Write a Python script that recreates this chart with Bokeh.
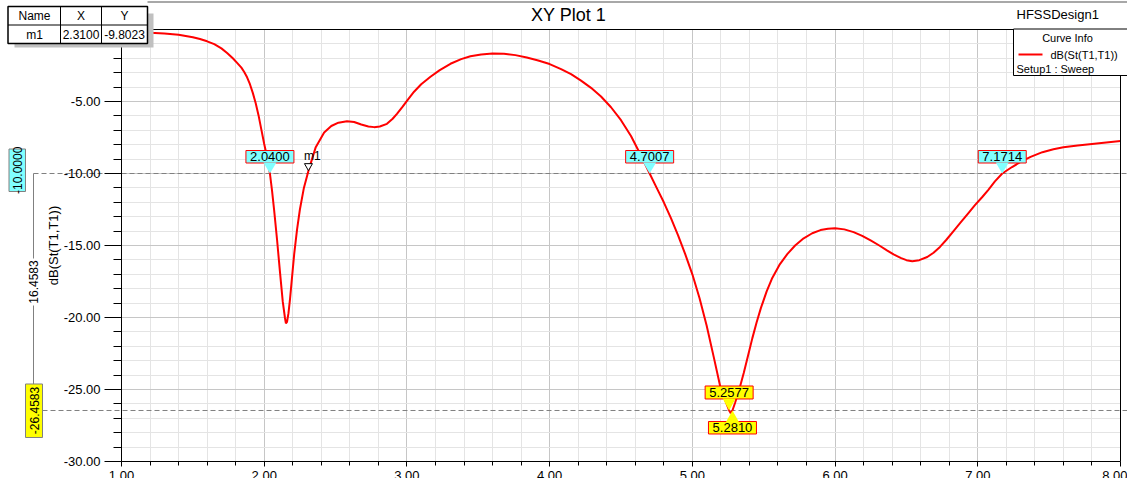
import math
from bokeh.plotting import figure
from bokeh.models import LinearAxis, FixedTicker, PrintfTickFormatter, Range1d, Grid
from bokeh.core.properties import value
from bokeh.embed import file_html
from bokeh.resources import INLINE

FONT = "Liberation Sans"

# ---------------- data ----------------
freq = [1.00, 1.10, 1.20, 1.30, 1.40, 1.50, 1.55, 1.60, 1.65, 1.70, 1.74, 1.78, 1.81, 1.84,
        1.86, 1.88, 1.90, 1.92, 1.94, 1.96, 1.98, 2.00, 2.02, 2.04, 2.055, 2.07, 2.09, 2.11,
        2.13, 2.145, 2.152, 2.16, 2.17, 2.18, 2.195, 2.21, 2.23, 2.25, 2.278, 2.31, 2.36,
        2.42, 2.47, 2.52, 2.58, 2.63, 2.68, 2.73, 2.77, 2.81, 2.86, 2.90, 2.93, 2.97, 3.00,
        3.05, 3.10, 3.165, 3.23, 3.305, 3.38, 3.445, 3.52, 3.60, 3.68, 3.76, 3.84, 3.92,
        4.00, 4.08, 4.15, 4.22, 4.29, 4.36, 4.43, 4.50, 4.57, 4.64, 4.7007, 4.75, 4.80, 4.85,
        4.90, 4.95, 5.00, 5.05, 5.10, 5.15, 5.20, 5.2577, 5.269, 5.281, 5.30, 5.33, 5.36,
        5.39, 5.42, 5.45, 5.48, 5.52, 5.56, 5.61, 5.665, 5.72, 5.78, 5.84, 5.898, 5.95, 6.00,
        6.065, 6.13, 6.19, 6.249, 6.31, 6.366, 6.41, 6.459, 6.50, 6.541, 6.59, 6.646, 6.69,
        6.735, 6.78, 6.83, 6.88, 6.93, 6.98, 7.03, 7.074, 7.12, 7.1714, 7.24, 7.30, 7.37,
        7.453, 7.53, 7.60, 7.70, 7.80, 7.90, 8.00]
db_s11 = [-0.18, -0.20, -0.22, -0.28, -0.37, -0.54, -0.66, -0.82, -1.02, -1.31, -1.63, -2.00,
          -2.32, -2.65, -2.95, -3.32, -3.80, -4.40, -5.10, -5.95, -6.95, -7.95, -8.85, -10.00,
          -11.20, -12.60, -14.60, -16.80, -18.90, -20.00, -20.40, -20.30, -19.70, -18.80,
          -17.20, -15.60, -13.90, -12.50, -11.00, -9.8023, -8.20, -7.15, -6.70, -6.47, -6.37,
          -6.42, -6.60, -6.73, -6.78, -6.74, -6.55, -6.20, -5.86, -5.35, -4.95, -4.32, -3.80,
          -3.28, -2.82, -2.38, -2.06, -1.86, -1.74, -1.67, -1.68, -1.78, -1.95, -2.15, -2.40,
          -2.75, -3.10, -3.55, -4.05, -4.65, -5.40, -6.30, -7.40, -8.75, -10.00, -11.00,
          -12.00, -13.10, -14.30, -15.60, -17.00, -18.65, -20.55, -22.75, -25.00, -26.4583,
          -26.65, -26.4583, -25.90, -24.95, -23.85, -22.65, -21.45, -20.35, -19.35, -18.20,
          -17.25, -16.35, -15.60, -15.00, -14.50, -14.15, -13.93, -13.84, -13.80, -13.88,
          -14.07, -14.33, -14.65, -15.00, -15.35, -15.62, -15.86, -16.02, -16.09, -16.02,
          -15.80, -15.50, -15.10, -14.60, -14.00, -13.40, -12.80, -12.20, -11.65, -11.13,
          -10.55, -10.00, -9.55, -9.20, -8.85, -8.52, -8.32, -8.18, -8.05, -7.95, -7.85, -7.75]

x_major_ticks = [1.0, 2.0, 3.0, 4.0, 5.0, 6.0, 7.0, 8.0]
x_minor_ticks = [round(1 + 0.2 * i, 1) for i in range(1, 35) if i % 5 != 0]
y_major_ticks = [-30, -25, -20, -15, -10, -5]
y_minor_ticks = [v for v in range(-29, 0) if v % 5 != 0]

marker_name = ["m1"]
marker_x = [2.3100]
marker_y = [-9.8023]

level_value = -10.0
level_x = [2.0400, 4.7007, 7.1714]
min_value = -26.4583
min_x_down = [5.2577]
min_x_up = [5.2810]
delta_text = "16.4583"

title_text = "XY Plot 1"
design_text = "HFSSDesign1"
legend_title = "Curve Info"
curve_name = "dB(St(T1,T1))"
setup_text = "Setup1 : Sweep"
table_header = ["Name", "X", "Y"]

# ---------------- geometry ----------------
W, H = 1127, 478
SX = (1120 - 121) / 7.0
SY = (461 - 29) / 30.0
X0 = 1.0 - 121 / SX
X1 = X0 + W / SX
Y1 = 0.0 + 29 / SY
Y0 = Y1 - H / SY


def dx(px):
    return X0 + px / SX


def dy(py):
    return Y1 - py / SY


def ox(n):
    return n / SX


def oy(n):
    return n / SY


p = figure(width=W, height=H, x_range=Range1d(X0, X1), y_range=Range1d(Y0, Y1),
           output_backend="svg", toolbar_location=None, x_axis_type=None, y_axis_type=None,
           min_border=0, background_fill_color="white", border_fill_color="white")
p.outline_line_color = None

xt = FixedTicker(ticks=x_major_ticks, minor_ticks=x_minor_ticks)
yt = FixedTicker(ticks=y_major_ticks, minor_ticks=y_minor_ticks)

gx = Grid(dimension=0, ticker=xt, grid_line_color="#c6c6c6", minor_grid_line_color="#e4e4e4",
          bounds=(1, 8))
gy = Grid(dimension=1, ticker=yt, grid_line_color="#c6c6c6", minor_grid_line_color="#e4e4e4",
          bounds=(-30, 0))
try:
    gx.cross_bounds = (-30, 0)
    gy.cross_bounds = (1, 8)
except Exception:
    pass
p.add_layout(gx)
p.add_layout(gy)

fmt = PrintfTickFormatter(format="%.2f")
xa = LinearAxis(ticker=xt, formatter=fmt, fixed_location=-30, bounds=(1, 8),
                major_tick_out=5, major_tick_in=0, minor_tick_out=4, minor_tick_in=0,
                axis_line_color="black", major_tick_line_color="black",
                minor_tick_line_color="black", major_label_standoff=4,
                major_label_text_font=FONT, major_label_text_font_size="13px",
                major_label_text_color="black")
p.add_layout(xa, "below")

ya = LinearAxis(ticker=yt, formatter=fmt, fixed_location=1.0, bounds=(-30, 0),
                major_tick_out=17, major_tick_in=0, minor_tick_out=8, minor_tick_in=0,
                axis_line_color="black", major_tick_line_color="black",
                minor_tick_line_color="black", major_label_standoff=4,
                major_label_text_font=FONT, major_label_text_font_size="13px",
                major_label_text_color="black", axis_label=curve_name,
                axis_label_text_font=FONT, axis_label_text_font_size="13px",
                axis_label_text_font_style="normal", axis_label_text_color="black",
                axis_label_standoff=0)
p.add_layout(ya, "left")

top_ax = LinearAxis(ticker=FixedTicker(ticks=[]), fixed_location=0, bounds=(1, 8),
                    major_tick_out=0, minor_tick_out=0, axis_line_color="black",
                    major_label_text_font_size="0px")
p.add_layout(top_ax, "above")
right_ax = LinearAxis(ticker=FixedTicker(ticks=[]), fixed_location=8, bounds=(-30, 0),
                      major_tick_out=0, minor_tick_out=0, axis_line_color="black",
                      major_label_text_font_size="0px")
p.add_layout(right_ax, "right")

# window top border
p.segment(x0=[dx(147)], y0=[dy(1.5)], x1=[X1], y1=[dy(1.5)],
          line_color="#a8a8a8", line_width=2)

# level lines (dashed)
p.segment(x0=[dx(33), dx(42)], y0=[level_value, min_value], x1=[X1, X1],
          y1=[level_value, min_value], line_color="#808080", line_width=1, line_dash="5 3")

# curve
p.line(freq, db_s11, line_color="#ff0000", line_width=2)


# ---------------- markers ----------------
def txt(x, y, t, size="13px", align="center", baseline="middle", angle=0.0, level="glyph"):
    p.text(x=x, y=y, text=t, text_font=value(FONT), text_font_size=value(size),
           text_align=align, text_baseline=baseline, text_color="black", angle=angle,
           level=level)


CYAN = "#80ffff"
YEL = "#ffff00"

# -10 crossings (box above, triangle pointing down)
p.quad(left=[v - ox(24) for v in level_x], right=[v + ox(24) for v in level_x],
       bottom=[level_value + oy(10.5)] * 3, top=[level_value + oy(23)] * 3,
       fill_color=CYAN, line_color="#ff0000", line_width=1)
p.patches(xs=[[v - ox(6.5), v + ox(6.5), v] for v in level_x],
          ys=[[level_value + oy(11), level_value + oy(11), level_value] for v in level_x],
          fill_color=CYAN, line_color=None)
txt(level_x, [level_value + oy(16.7)] * 3, ["%.4f" % v for v in level_x])

# minimum crossings
p.quad(left=[v - ox(24) for v in min_x_down], right=[v + ox(24) for v in min_x_down],
       bottom=[min_value + oy(11.5)], top=[min_value + oy(24.5)],
       fill_color=YEL, line_color="#ff0000", line_width=1)
p.patches(xs=[[v - ox(6.5), v + ox(6.5), v] for v in min_x_down],
          ys=[[min_value + oy(12), min_value + oy(12), min_value] for v in min_x_down],
          fill_color=YEL, line_color=None)
txt(min_x_down, [min_value + oy(18)], ["%.4f" % v for v in min_x_down])

p.quad(left=[v - ox(24) for v in min_x_up], right=[v + ox(24) for v in min_x_up],
       top=[min_value - oy(11)], bottom=[min_value - oy(23.5)],
       fill_color=YEL, line_color="#ff0000", line_width=1)
p.patches(xs=[[v - ox(6.5), v + ox(6.5), v] for v in min_x_up],
          ys=[[min_value - oy(11.5), min_value - oy(11.5), min_value] for v in min_x_up],
          fill_color=YEL, line_color=None)
txt(min_x_up, [min_value - oy(17.3)], ["%.4f" % v for v in min_x_up])

# m1 marker
p.patches(xs=[[v - ox(4), v + ox(4), v] for v in marker_x],
          ys=[[w + oy(7), w + oy(7), w] for w in marker_y],
          fill_color="white", line_color="black", line_width=1)
txt([v - ox(4.5) for v in marker_x], [w + oy(8) for w in marker_y], marker_name,
    size="12px", align="left", baseline="bottom")

# ---------------- delta annotation on the left ----------------
p.segment(x0=[dx(33)], y0=[level_value], x1=[dx(33)], y1=[min_value],
          line_color="#808080", line_width=1)
p.quad(left=[dx(26)], right=[dx(40)], top=[dy(258)], bottom=[dy(305)],
       fill_color="white", line_color=None)
txt([dx(33)], [dy(281.5)], [delta_text], size="12px", angle=math.pi / 2)
p.quad(left=[dx(8.5)], right=[dx(25)], top=[level_value + oy(24.5)],
       bottom=[level_value - oy(18)], fill_color=CYAN, line_color="#808080", line_width=1)
txt([dx(16.8)], [level_value + oy(3.2)], ["%.4f" % level_value], size="12px",
    angle=math.pi / 2)
p.quad(left=[dx(25)], right=[dx(42)], top=[min_value + oy(26.5)],
       bottom=[min_value - oy(27)], fill_color=YEL, line_color="#808080", line_width=1)
txt([dx(33.5)], [min_value], ["%.4f" % min_value], size="12px", angle=math.pi / 2)

# ---------------- title ----------------
txt([dx(568)], [dy(14)], [title_text], size="18px")

# ---------------- marker table (top-left) ----------------
p.quad(left=[dx(14)], right=[dx(153)], top=[dy(13)], bottom=[dy(47)],
       fill_color="#c0c0c0", line_color=None, level="overlay")
p.quad(left=[dx(7.5)], right=[dx(147)], top=[dy(6)], bottom=[dy(43)],
       fill_color="white", line_color="black", line_width=1.5, level="overlay")
p.segment(x0=[dx(7.5), dx(60), dx(101)], y0=[dy(24.5), dy(6), dy(6)],
          x1=[dx(147), dx(60), dx(101)], y1=[dy(24.5), dy(43), dy(43)],
          line_color="black", line_width=1, level="overlay")
col_x = [dx(34), dx(80.5), dx(124)]
txt(col_x, [dy(15.5)] * 3, table_header, size="12px", level="overlay")
txt(col_x, [dy(34)] * 3,
    [marker_name[0], "%.4f" % marker_x[0], "%.4f" % marker_y[0]], size="12px",
    level="overlay")

# ---------------- legend (top-right) ----------------
txt([dx(1016)], [dy(14)], [design_text], size="13px", align="left", level="overlay")
p.quad(left=[dx(1013)], right=[X1 + ox(5)], top=[dy(28.5)], bottom=[dy(75)],
       fill_color="white", line_color="black", line_width=1, level="overlay")
txt([dx(1067)], [dy(37)], [legend_title], size="11px", level="overlay")
p.segment(x0=[dx(1018)], y0=[dy(54)], x1=[dx(1042)], y1=[dy(54)],
          line_color="#ff0000", line_width=2, level="overlay")
txt([dx(1050)], [dy(54)], [curve_name], size="11px", align="left", level="overlay")
txt([dx(1016)], [dy(68)], [setup_text], size="11px", align="left", level="overlay")

open("out.html", "w").write(file_html(p, INLINE))
